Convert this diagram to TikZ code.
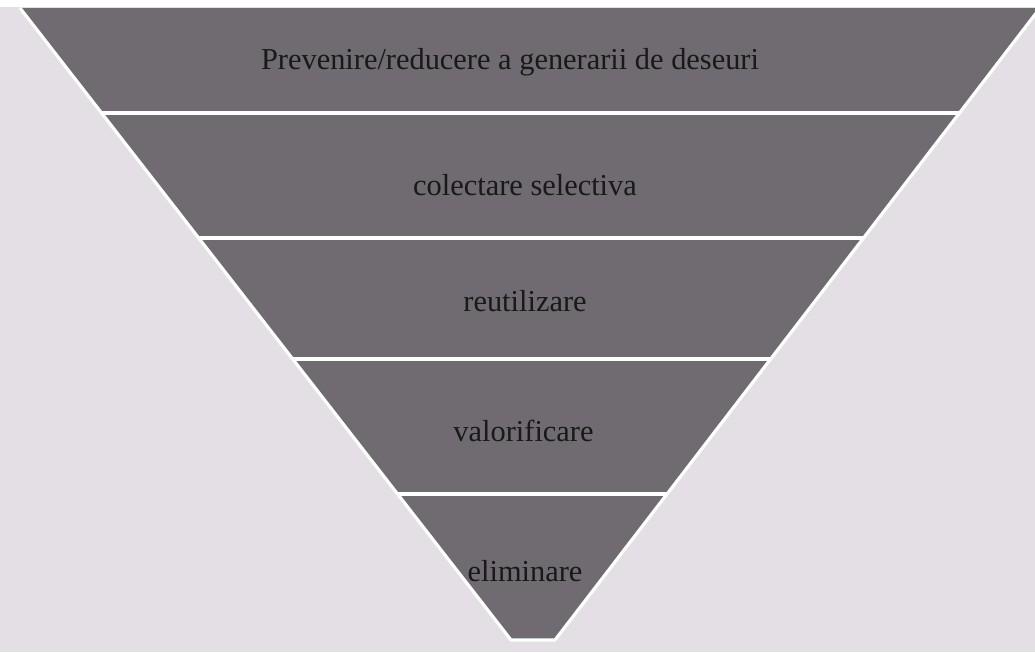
\documentclass[tikz,border=0pt]{standalone}
\usepackage{fontspec}
\setmainfont{Liberation Serif}
\usepackage{xcolor}
\usetikzlibrary{positioning, calc}

\definecolor{bandgray}{HTML}{6F6B71}
\definecolor{papergray}{HTML}{E3DFE4}

\begin{document}
\begin{tikzpicture}[every node/.style={font=\fontsize{17.3}{20}\selectfont, text=black!90}]

\useasboundingbox (0,0) rectangle (20.7,-13.04);
\fill[white] (0,0) rectangle (20.7,-13.04);
\fill[papergray] (0,-0.14) rectangle (20.7,-13.04);

\coordinate (tl) at (0.40,-0.16);
\coordinate (tr) at (20.80,-0.16);
\coordinate (bl) at (10.22,-12.80);
\coordinate (br) at (11.10,-12.80);

% inverted triangle (cut flat at the bottom) with white rim
\fill[bandgray] (tl) -- (tr) -- (br) -- (bl) -- cycle;
\draw[white, line width=1.8pt, line join=round] (tl) -- (bl) -- (br) -- (tr);

% white lines between the levels
\foreach \t in {0.166, 0.364, 0.555, 0.769}
  \draw[white, line width=2.3pt] ($(tl)!\t!(bl)$) -- ($(tr)!\t!(br)$);

\node (prev) at (10.2,-1.25)  {Prevenire/reducere a generarii de deseuri};
\node (colc) at (10.5,-3.7)   {colectare selectiva};
\node (reut) at (10.5,-6.02)  {reutilizare};
\node (valo) at (10.47,-8.62) {valorificare};
\node (elim) at (10.5,-11.42) {eliminare};

\end{tikzpicture}
\end{document}
